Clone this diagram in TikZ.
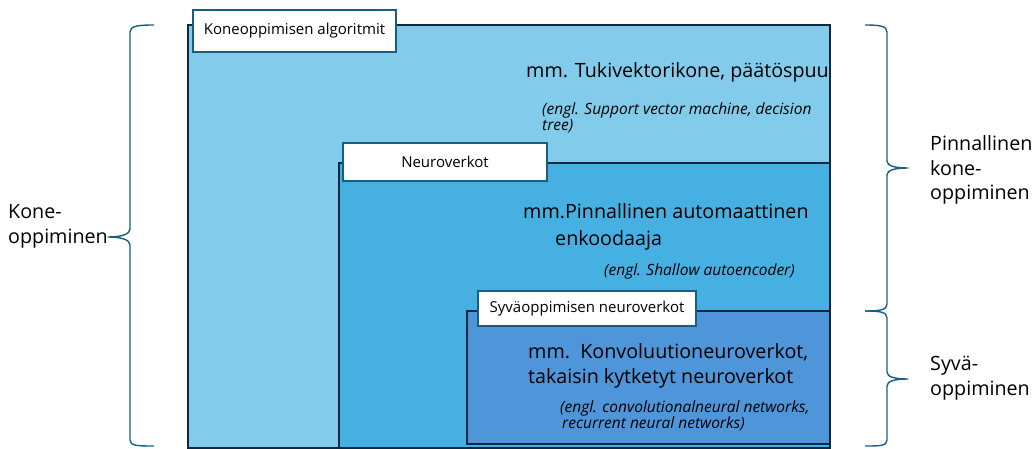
\documentclass[tikz,border=0pt]{standalone}
\usepackage{fontspec}
\setmainfont{Open Sans}
\definecolor{lightA}{HTML}{83CBEB}
\definecolor{midA}{HTML}{45B0E1}
\definecolor{deepA}{HTML}{4E95D9}
\definecolor{frameC}{HTML}{0E2841}
\definecolor{accentC}{HTML}{156082}
\begin{document}
\begin{tikzpicture}[x=1pt,y=-1pt,
  area/.style={draw=frameC, line width=1.6pt, inner sep=0, anchor=north west},
  lbl/.style={draw=accentC, fill=white, line width=1.3pt, inner sep=0,
    font=\fontsize{15}{18}\selectfont},
  body/.style={anchor=base west, inner sep=0, font=\fontsize{19.7}{23}\selectfont},
  eng/.style={anchor=base west, inner sep=0, font=\itshape\fontsize{15.5}{18}\selectfont},
  side/.style={anchor=base west, inner sep=0, align=left, font=\fontsize{19.7}{24.7}\selectfont},
  brace/.style={draw=accentC, line width=1.4pt, line join=round}]
\useasboundingbox (0,0) rectangle (1035,449);

% areas
\node[area, fill=lightA, minimum width=642, minimum height=423] (ml) at (187,24) {};
\node[area, fill=midA, minimum width=491, minimum height=285] (nn) at (338,162) {};
\node[area, fill=deepA, minimum width=363, minimum height=133] (dl) at (466,310) {};

% labels
\node[lbl, minimum width=203, minimum height=42] (lml) at (294.5,31) {Koneoppimisen algoritmit};
\node[lbl, minimum width=204, minimum height=38] (lnn) at (445,162) {Neuroverkot};
\node[lbl, minimum width=218, minimum height=35] (ldl) at (587,308.5) {Syväoppimisen neuroverkot};

% texts
\node[body] (t1) at (526,78) {mm. Tukivektorikone, päätöspuu};
\node[eng] (e1a) at (542,115) {(engl. Support vector machine, decision};
\node[eng] (e1b) at (542,131) {tree)};
\node[body] (t2a) at (523,218) {mm.Pinnallinen automaattinen};
\node[body] (t2b) at (555,245) {enkoodaaja};
\node[eng] (e2) at (604,275) {(engl. Shallow autoencoder)};
\node[body] (t3a) at (528,358) {mm.\ \ Konvoluutioneuroverkot,};
\node[body] (t3b) at (528,383) {takaisin kytketyt neuroverkot};
\node[eng] (e3a) at (560,412) {(engl. convolutionalneural networks,};
\node[eng] (e3b) at (562,428) {recurrent neural networks)};

% braces
\coordinate (bl) at (108,237);
\draw[brace] (154,25) .. controls (138,25) and (130,26) .. (130,32) -- (130,229)
  .. controls (130,234) and (122,237) .. (bl)
  .. controls (122,237) and (130,240) .. (130,245) -- (130,440)
  .. controls (130,446) and (138,446) .. (154,446);
\coordinate (br1) at (908,168);
\draw[brace] (865,25) .. controls (880,25) and (887,26) .. (887,32) -- (887,161)
  .. controls (887,166) and (895,168) .. (br1)
  .. controls (895,168) and (887,170) .. (887,175) -- (887,304)
  .. controls (887,310) and (880,311) .. (865,311);
\coordinate (br2) at (908,379);
\draw[brace] (865,311) .. controls (880,311) and (887,312) .. (887,318) -- (887,372)
  .. controls (887,377) and (895,379) .. (br2)
  .. controls (895,379) and (887,381) .. (887,386) -- (887,440)
  .. controls (887,446) and (880,446) .. (865,446);

% side labels (base anchor = baseline of last line)
\node[side] (sl) at (8,243) {Kone-\\oppiminen};
\node[side] (sr1) at (930,200) {Pinnallinen\\kone-\\oppiminen};
\node[side] (sr2) at (930,395) {Syvä-\\oppiminen};
\end{tikzpicture}
\end{document}
